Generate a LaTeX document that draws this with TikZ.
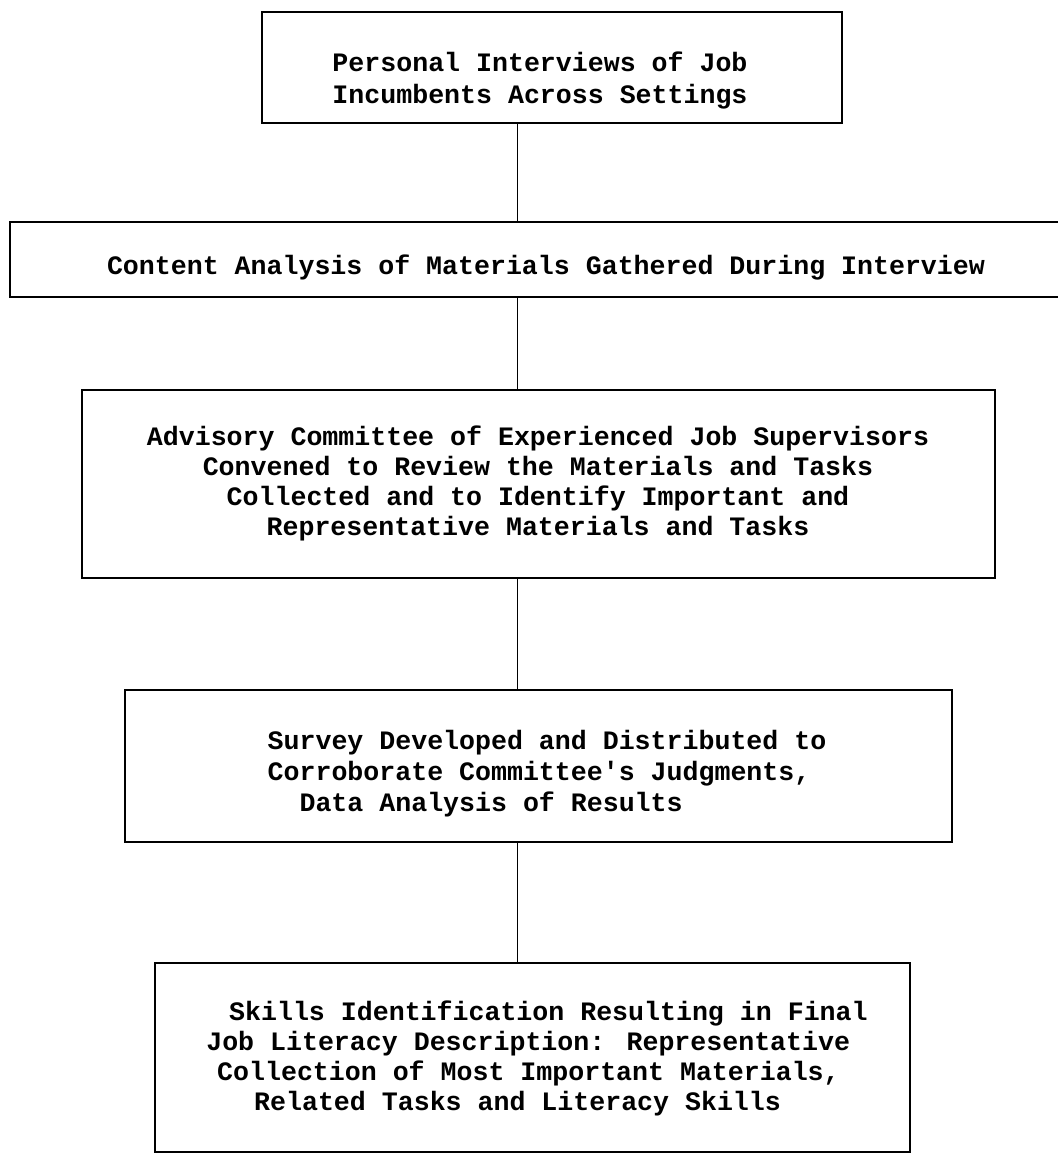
\documentclass[tikz,border=0pt]{standalone}
\usepackage{fontspec}
\newfontfamily\tw{Liberation Mono}
\begin{document}
\begin{tikzpicture}[x=0.5pt,y=-0.5pt,
  box/.style={draw, line width=1.3pt, inner sep=0pt},
  txt/.style={inner sep=0pt, font=\tw\bfseries\fontsize{13.3}{15}\selectfont},
  link/.style={line width=0.8pt}]
\useasboundingbox (0,0) rectangle (1057,1154);
% boxes
\node[box, minimum width=290pt, minimum height=55.5pt] (b1) at (552,67.5) {};
\node[box, minimum width=527.5pt, minimum height=37.5pt] (b2) at (537.5,259.5) {};
\node[box, minimum width=456.5pt, minimum height=94pt] (b3) at (538.5,484) {};
\node[box, minimum width=413.5pt, minimum height=76pt] (b4) at (538.5,766) {};
\node[box, minimum width=377.5pt, minimum height=94.5pt] (b5) at (532.5,1057.5) {};
% texts
\node[txt, align=center, font=\tw\bfseries\fontsize{13.3}{16}\selectfont] (t1) at (540,80)
  {Personal Interviews of Job\\Incumbents Across Settings};
\node[txt] (t2) at (546,267) {Content Analysis of Materials Gathered During Interview};
\node[txt, align=center] (t3) at (538,483)
  {Advisory Committee of Experienced Job Supervisors\\
   Convened to Review the Materials and Tasks\\
   Collected and to Identify Important and\\
   Representative Materials and Tasks};
\node[txt, align=left, font=\tw\bfseries\fontsize{13.3}{15.5}\selectfont] (t4) at (547,774)
  {Survey Developed and Distributed to\\
   Corroborate Committee's Judgments,\\
   \hspace*{1.2em}Data Analysis of Results};
\node[txt, align=left] (t5) at (537,1058)
  {\hspace*{0.86em}Skills Identification Resulting in Final\\
   Job Literacy Description: Representative\\
   \hspace*{0.41em}Collection of Most Important Materials,\\
   \hspace*{1.8em}Related Tasks and Literacy Skills};
% connectors
\coordinate (sp) at (517.5,0);
\draw[link] (sp |- b1.south) -- (sp |- b2.north);
\draw[link] (sp |- b2.south) -- (sp |- b3.north);
\draw[link] (sp |- b3.south) -- (sp |- b4.north);
\draw[link] (sp |- b4.south) -- (sp |- b5.north);
\end{tikzpicture}
\end{document}
